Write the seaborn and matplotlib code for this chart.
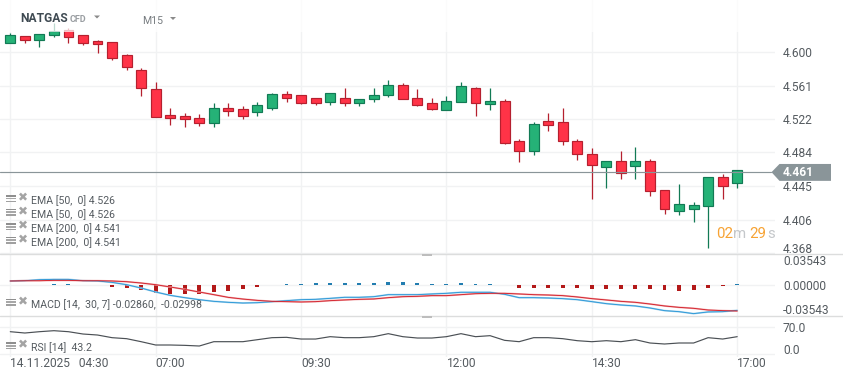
import numpy as np
import pandas as pd
import matplotlib
matplotlib.use('Agg')
import matplotlib.pyplot as plt
from matplotlib.patches import Polygon, Rectangle
from matplotlib.lines import Line2D
from matplotlib.transforms import ScaledTranslation
import seaborn as sns

# candle values (one per 15 minutes)
opens = [4.610, 4.618, 4.613, 4.619, 4.625, 4.619, 4.612, 4.611, 4.596, 4.579,
         4.557, 4.527, 4.5255, 4.523, 4.518, 4.535, 4.534, 4.530, 4.535, 4.551,
         4.550, 4.547, 4.542, 4.547, 4.541, 4.546, 4.550, 4.562, 4.547, 4.5405,
         4.533, 4.542, 4.558, 4.540, 4.543, 4.497, 4.486, 4.520, 4.519, 4.497,
         4.482, 4.467, 4.474, 4.468, 4.474, 4.440, 4.416, 4.419, 4.422, 4.455, 4.449]
closes = [4.619, 4.614, 4.621, 4.624, 4.617, 4.610, 4.609, 4.593, 4.582, 4.558,
          4.525, 4.524, 4.522, 4.518, 4.535, 4.532, 4.526, 4.539, 4.551, 4.547,
          4.541, 4.541, 4.552, 4.541, 4.545, 4.550, 4.562, 4.545, 4.539, 4.534,
          4.543, 4.561, 4.541, 4.543, 4.495, 4.485, 4.517, 4.515, 4.497, 4.482,
          4.469, 4.474, 4.460, 4.474, 4.439, 4.418, 4.424, 4.423, 4.455, 4.445, 4.464]
highs = [4.622, 4.618, 4.621, 4.633, 4.627, 4.619, 4.6135, 4.611, 4.597, 4.581,
         4.565, 4.535, 4.529, 4.528, 4.5405, 4.5405, 4.537, 4.542, 4.552, 4.555,
         4.550, 4.547, 4.552, 4.558, 4.546, 4.558, 4.567, 4.564, 4.557, 4.547,
         4.549, 4.565, 4.559, 4.558, 4.545, 4.499, 4.519, 4.529, 4.535, 4.499,
         4.489, 4.474, 4.485, 4.490, 4.476, 4.441, 4.447, 4.427, 4.456, 4.459, 4.464]
lows = [4.610, 4.610, 4.606, 4.617, 4.610, 4.608, 4.599, 4.590, 4.579, 4.549,
        4.525, 4.515, 4.5135, 4.514, 4.5135, 4.526, 4.522, 4.526, 4.533, 4.542,
        4.540, 4.538, 4.539, 4.537, 4.537, 4.542, 4.548, 4.545, 4.537, 4.533,
        4.533, 4.542, 4.526, 4.533, 4.493, 4.473, 4.481, 4.508, 4.492, 4.475,
        4.430, 4.443, 4.4535, 4.4535, 4.433, 4.413, 4.412, 4.403, 4.374, 4.430, 4.443]
last_price = 4.461

macd_line = [.0053, .0057, .0072, .0076, .0076, .0057, .0053, .0033, .0, -.0048,
             -.0105, -.0153, -.0186, -.0215, -.0239, -.0253, -.0263, -.0258, -.0244, -.0229,
             -.0215, -.0210, -.0196, -.0181, -.0181, -.0172, -.0143, -.0143, -.0143, -.0133,
             -.0124, -.0109, -.0109, -.0109, -.0138, -.0186, -.0186, -.0191, -.0200, -.0215,
             -.0243, -.0272, -.0291, -.0305, -.0334, -.0372, -.0387, -.0415, -.0391, -.0387, -.0368]
signal_line = [.0053, .0057, .0057, .0062, .0062, .0057, .0057, .0053, .0043, .0024,
               .0, -.0033, -.0067, -.0105, -.0143, -.0182, -.0206, -.0225, -.0239, -.0243,
               -.0248, -.0243, -.0229, -.0219, -.0210, -.0205, -.0186, -.0172, -.0167, -.0157,
               -.0157, -.0143, -.0129, -.0124, -.0124, -.0133, -.0143, -.0148, -.0157, -.0176,
               -.0200, -.0219, -.0239, -.0253, -.0277, -.0305, -.0325, -.0339, -.0363, -.0372, -.0377]
macd_hist = [0, 0, 0, .0008, .0008, 0, 0, -.0033, -.0048, -.0076,
             -.0119, -.0134, -.0134, -.0134, -.0105, -.0091, -.0062, -.0033, 0, .0010,
             .0010, .0024, .0024, .0024, .0024, .0024, .0038, .0038, .0024, .0010,
             .0010, .0024, .0010, .0010, -.0010, -.0043, -.0043, -.0043, -.0043, -.0043,
             -.0062, -.0062, -.0062, -.0062, -.0062, -.0076, -.0091, -.0076, -.0043, -.0014, .0010]
rsi = [57.0, 53.6, 57.0, 59.6, 57.0, 51.0, 48.4, 41.5, 38.9, 31.1,
       22.5, 22.5, 21.6, 19.9, 31.1, 31.1, 31.1, 36.3, 41.5, 42.4,
       38.0, 38.0, 44.1, 41.5, 41.5, 44.1, 51.9, 44.1, 40.6, 40.6,
       44.1, 51.9, 44.1, 46.7, 34.6, 31.1, 41.5, 41.5, 38.9, 33.7,
       31.1, 33.7, 31.1, 36.3, 27.7, 25.1, 27.7, 27.7, 41.5, 38.0, 44.1]

price_ticks = [4.600, 4.561, 4.522, 4.484, 4.445, 4.406, 4.368]
macd_ticks = [0.03543, 0.0, -0.03543]
macd_tick_labels = ['0.03543', '0.00000', '-0.03543']
rsi_ticks = [70.0, 0.0]
time_ticks = [0, 10, 20, 30, 40, 50]
time_labels = ['14.11.2025   04:30', '07:00', '09:30', '12:00', '14:30', '17:00']
ema_rows = ['EMA [50,  0] 4.526', 'EMA [50,  0] 4.526', 'EMA [200,  0] 4.541', 'EMA [200,  0] 4.541']

GREEN, GREEN_EDGE = '#25b277', '#127a55'
RED, RED_EDGE = '#ff3347', '#b5202f'
GRID = '#f1f2f3'
SEP = '#dcdddd'
LABEL = '#555b60'
BADGE = '#8a9599'
W, H = 843, 379

sns.set_theme(style='white')
plt.rcParams['font.family'] = ['Roboto', 'DejaVu Sans']
plt.rcParams['axes.unicode_minus'] = False


def fs(px):
    return px * 0.72


df = pd.DataFrame({'i': np.arange(len(opens)), 'open': opens, 'close': closes, 'high': highs,
                   'low': lows, 'macd': macd_line, 'signal': signal_line, 'hist': macd_hist, 'rsi': rsi})
df['up'] = df['close'] >= df['open']
df['side'] = np.where(df['hist'] >= 0, 'pos', 'neg')

fig = plt.figure(figsize=(W / 100, H / 100), dpi=100, facecolor='white')


def panel(top, bottom):
    return fig.add_axes([0, 1 - bottom / H, 775 / W, (bottom - top) / H], facecolor='none')


ax1 = panel(0, 254)
ax2 = panel(254, 316)
ax3 = panel(316, 357)
xlim = (-0.708, 52.6)

for ax in (ax1, ax2, ax3):
    sns.despine(ax=ax, left=True, bottom=True)
    ax.set_xlim(xlim)
    ax.set_xticks(time_ticks)
    ax.xaxis.grid(True, color=GRID, linewidth=1)
    ax.yaxis.grid(False)
    ax.yaxis.tick_right()
    ax.tick_params(axis='both', length=0, pad=5.76, labelsize=fs(12), labelcolor=LABEL)
    ax.set_axisbelow(True)


def raise_label(label, px):
    # the lowest label of a panel sits a few pixels above its gridline
    label.set_transform(label.get_transform() + ScaledTranslation(0, px / 100, fig.dpi_scale_trans))


# ---- candles
ax1.set_ylim(4.3666, 4.6597)
ax1.set_yticks(price_ticks)
ax1.set_yticklabels([f'{v:.3f}' for v in price_ticks])
ax1.yaxis.grid(True, color=GRID, linewidth=1)
ax1.set_xticklabels([])
raise_label(ax1.get_yticklabels()[-1], 4.7)

for up, fill, edge in ((True, GREEN, GREEN_EDGE), (False, RED, RED_EDGE)):
    d = df[df['up'] == up]
    ax1.vlines(d['i'], d['low'], d['high'], color=edge, linewidth=0.9, zorder=2)
    ax1.bar(d['i'], (d['close'] - d['open']).abs(), bottom=d[['open', 'close']].min(axis=1),
            width=0.68, color=fill, edgecolor=edge, linewidth=0.85, zorder=3)

# current price line and badge
tf = ax1.get_yaxis_transform()
ax1.plot([0, 771 / 775], [last_price, last_price], transform=tf, color=BADGE, linewidth=0.85, zorder=4)
ax1.add_patch(Polygon([(771.5 / 775, last_price), (779.5 / 775, last_price + 0.0095),
                       (831 / 775, last_price + 0.0095), (831 / 775, last_price - 0.0100),
                       (779.5 / 775, last_price - 0.0100)],
                      closed=True, transform=tf, color=BADGE, clip_on=False, linewidth=0, zorder=5))
ax1.text(783 / 775, last_price, f'{last_price:.3f}', transform=tf, color='white', fontsize=fs(12),
         fontweight='bold', va='center', ha='left', zorder=6)

# ---- MACD
ax2.set_ylim(-0.0449, 0.0440)
ax2.set_yticks(macd_ticks)
ax2.set_yticklabels(macd_tick_labels)
ax2.set_xticklabels([])
ax2.axhline(0, color=GRID, linewidth=1, zorder=0)
sns.barplot(data=df, x='i', y='hist', hue='side', palette={'pos': '#0a84c8', 'neg': '#cc0000'},
            native_scale=True, dodge=False, legend=False, width=0.27, linewidth=0, ax=ax2, zorder=2)
# pale band under each line, no fill between them
sns.lineplot(data=df, x='i', y='macd', color='#a9d4ec', linewidth=1.3, ax=ax2, zorder=2.5)
sns.lineplot(data=df, x='i', y='signal', color='#f2acaf', linewidth=1.3, ax=ax2, zorder=2.6)
sns.lineplot(data=df, x='i', y='macd', color='#2a98d8', linewidth=0.65, ax=ax2, zorder=3)
sns.lineplot(data=df, x='i', y='signal', color='#d3222c', linewidth=0.65, ax=ax2, zorder=4)
ax2.set_xlim(xlim)
ax2.set_xlabel('')
ax2.set_ylabel('')

# ---- RSI
ax3.set_ylim(-8.6, 97.7)
ax3.set_yticks(rsi_ticks)
ax3.set_yticklabels([f'{v:.1f}' for v in rsi_ticks])
ax3.yaxis.grid(True, color=GRID, linewidth=1)
raise_label(ax3.get_yticklabels()[-1], 4.7)
sns.lineplot(data=df, x='i', y='rsi', color='#4b5055', linewidth=0.85, ax=ax3, zorder=3)
ax3.set_xlim(xlim)
ax3.set_xlabel('')
ax3.set_ylabel('')
ax3.set_xticks(time_ticks)
ax3.set_xticklabels(time_labels, ha='left')
ax3.tick_params(axis='x', pad=0)

# ---- header overlay, separators, handles
fig.add_artist(Rectangle((0, 1 - 32 / H), 1, 32 / H, transform=fig.transFigure, color='white', alpha=0.72,
                         linewidth=0, zorder=2))
for y in (254, 316):
    fig.add_artist(Line2D([0, 1], [1 - y / H] * 2, color=SEP, linewidth=1, zorder=2))
    fig.add_artist(Rectangle((422 / W, 1 - (y + 2) / H), 10 / W, 2 / H, transform=fig.transFigure,
                             color='#bdbdbd', linewidth=0, zorder=3))


def ftext(x, y, s, size, color, **kw):
    fig.text(x / W, 1 - y / H, s, fontsize=fs(size), color=color, va='center', ha='left', zorder=5, **kw)


def legend_row(y, s):
    for off, col in ((-5.6, '#8f8f8f'), (-2.9, '#a8a8a8'), (-0.2, '#a0a0a0')):
        fig.add_artist(Rectangle((6 / W, 1 - (y + off + 1.7) / H), 10 / W, 1.7 / H, transform=fig.transFigure,
                                 color=col, linewidth=0, zorder=5))
    ftext(18.2, y - 2.6, '✖', 12, '#a4a4a4', family='DejaVu Sans')
    ftext(31, y, s, 10.5, LABEL)


ftext(20.5, 18, 'NATGAS', 12, '#3f4a52', fontweight='bold')
ftext(70, 19, 'CFD', 9, '#9a9ea2', fontweight='bold')
ftext(142, 20.5, 'M15', 10.5, '#777c80')
for x, y in ((97, 17), (173, 18.5)):
    fig.add_artist(Polygon([((x - 3) / W, 1 - (y - 1.5) / H), ((x + 3) / W, 1 - (y - 1.5) / H), (x / W, 1 - (y + 1.5) / H)],
                           closed=True, transform=fig.transFigure, color='#8a8a8a', linewidth=0, zorder=5))

for y, s in zip((200.7, 214.3, 228.7, 242.3), ema_rows):
    legend_row(y, s)
legend_row(304.3, 'MACD [14,  30, 7] -0.02860,  -0.02998')
legend_row(347.7, 'RSI [14]  43.2')

# countdown
ftext(716.5, 234, '02', 15, '#f7a334')
ftext(733.5, 234, 'm', 15, '#c4c7ca')
ftext(749.5, 234, '29', 15, '#f7a334')
ftext(767, 234, 's', 15, '#c4c7ca')

plt.savefig('out.png', dpi=100)
plt.close()
